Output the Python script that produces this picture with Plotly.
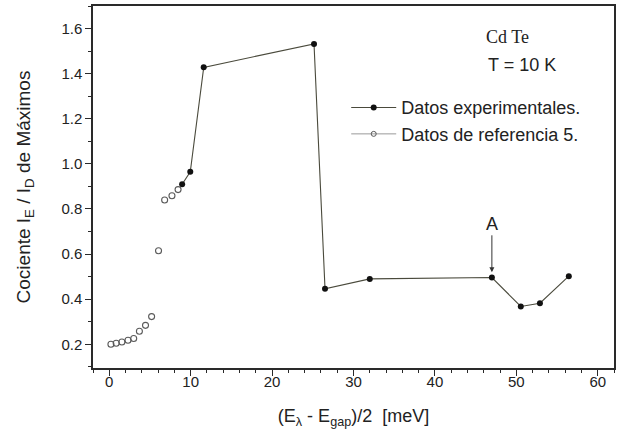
import plotly.graph_objects as go

# Experimental data (filled circles, connected)
exp_x = [8.95, 9.95, 11.6, 25.15, 26.5, 32.0, 47.0, 50.55, 52.9, 56.45]
exp_y = [0.91, 0.965, 1.428, 1.532, 0.446, 0.49, 0.496, 0.368, 0.382, 0.502]

# Reference 5 data (open circles)
ref_x = [0.2, 0.85, 1.55, 2.3, 3.0, 3.7, 4.45, 5.2, 6.05, 6.8, 7.7, 8.45]
ref_y = [0.2, 0.205, 0.21, 0.218, 0.226, 0.258, 0.284, 0.323, 0.615, 0.84, 0.859, 0.886]

x_ticks = [0, 10, 20, 30, 40, 50, 60]
y_ticks = [0.2, 0.4, 0.6, 0.8, 1.0, 1.2, 1.4, 1.6]

SANS = "Liberation Sans, Arial, sans-serif"
SERIF = "Liberation Serif, Times New Roman, serif"
TXT = "#222222"
LINE = "#4a4a3c"

fig = go.Figure()

fig.add_trace(go.Scatter(
    x=ref_x, y=ref_y, mode="markers", showlegend=False,
    marker=dict(symbol="circle-open", size=6, color="#5a5a5a", line=dict(width=1.1)),
))
fig.add_trace(go.Scatter(
    x=exp_x, y=exp_y, mode="lines+markers", name="Datos experimentales.",
    line=dict(color=LINE, width=1.1),
    marker=dict(symbol="circle", size=6, color="#111111"),
))
# legend entry for the reference data
fig.add_trace(go.Scatter(
    x=[None], y=[None], mode="lines+markers", name="Datos de referencia 5.",
    line=dict(color="#9a9a9a", width=1),
    marker=dict(symbol="circle-open", size=5, color="#5a5a5a", line=dict(width=1)),
))

axis_common = dict(
    showline=True, mirror=True, linecolor="#2a2a2a", linewidth=1.5,
    ticks="outside", ticklen=6, tickwidth=1.2, tickcolor="#2a2a2a",
    showgrid=False, zeroline=False,
    tickfont=dict(family=SANS, size=15, color=TXT),
)

fig.update_xaxes(
    range=[-2, 62], tickvals=x_ticks, ticklabelstandoff=-7,
    minor=dict(dtick=2, tick0=0, ticks="outside", ticklen=3, tickwidth=1, tickcolor="#2a2a2a"),
    title=dict(text="(E<sub>\u03bb</sub> - E<sub>gap</sub>)/2\u00a0\u00a0[meV]",
               font=dict(family=SANS, size=18, color=TXT), standoff=21),
    **axis_common,
)
fig.update_yaxes(
    range=[0.095, 1.70], tickvals=y_ticks, tickformat=".1f",
    minor=dict(dtick=0.1, tick0=0, ticks="outside", ticklen=3, tickwidth=1, tickcolor="#2a2a2a"),
    title=dict(text="Cociente I<sub>E</sub> / I<sub>D</sub> de M\u00e1ximos",
               font=dict(family=SANS, size=19, color=TXT), standoff=26),
    **axis_common,
)

fig.add_annotation(x=0.75, y=0.915, xref="paper", yref="paper", xanchor="left", yanchor="middle",
                   text="Cd Te", showarrow=False, font=dict(family=SERIF, size=18, color=TXT))
fig.add_annotation(x=0.755, y=0.838, xref="paper", yref="paper", xanchor="left", yanchor="middle",
                   text="T = 10 K", showarrow=False, font=dict(family=SANS, size=18, color=TXT))

# arrow pointing at point A
fig.add_annotation(x=47.0, y=0.52, xref="x", yref="y", ax=47.0, ay=0.69, axref="x", ayref="y",
                   text="", showarrow=True, arrowhead=2, arrowsize=1, arrowwidth=1, arrowcolor="#333333")
fig.add_annotation(x=47.0, y=0.735, xref="x", yref="y", text="A", showarrow=False,
                   font=dict(family=SANS, size=18, color=TXT))

fig.update_layout(
    width=622, height=430,
    margin=dict(l=93, r=8, t=4, b=62),
    paper_bgcolor="white", plot_bgcolor="white",
    legend=dict(x=0.486, y=0.77, xanchor="left", yanchor="top",
                bgcolor="rgba(0,0,0,0)", borderwidth=0, itemwidth=45,
                font=dict(family=SANS, size=18, color=TXT)),
)

fig.write_html("out.html")
